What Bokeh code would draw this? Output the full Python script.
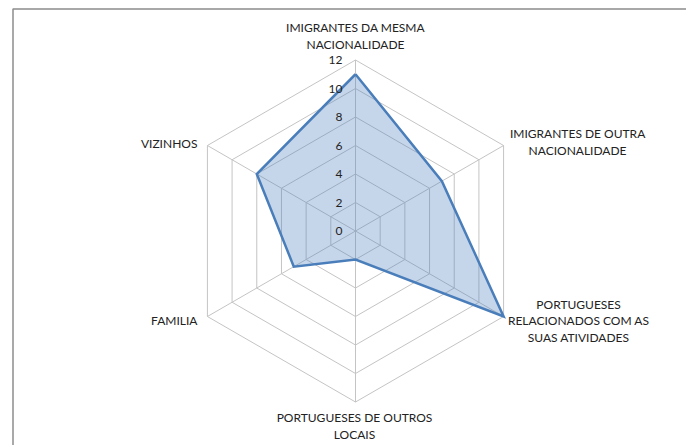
import numpy as np
from bokeh.plotting import figure
from bokeh.models import Range1d, ColumnDataSource
from bokeh.embed import file_html
from bokeh.resources import INLINE
from bokeh.core.properties import value

# ---- data ----
categories = [
    "IMIGRANTES DA MESMA\nNACIONALIDADE",
    "IMIGRANTES DE OUTRA\nNACIONALIDADE",
    "PORTUGUESES\nRELACIONADOS COM AS\nSUAS ATIVIDADES",
    "PORTUGUESES DE OUTROS\nLOCAIS",
    "FAMILIA",
    "VIZINHOS",
]
values = [11, 7, 12, 2, 5, 8]
ticks = [0, 2, 4, 6, 8, 10, 12]
tick_labels = ["0", "2", "4", "6", "8", "10", "12"]
r_max = 12

# ---- layout ----
W, H = 686, 445
cx_px, cy_px = 355, 230.5
k = 14.25  # pixels per unit
FONT = "Lato"
TXT = "#222222"

x0, x1 = -cx_px / k, (W - cx_px) / k
y0, y1 = -(H - cy_px) / k, cy_px / k
p = figure(width=W, height=H, output_backend="svg", toolbar_location=None,
           x_range=Range1d(x0, x1), y_range=Range1d(y0, y1),
           min_border=0, border_fill_color="white", background_fill_color="white")
p.axis.visible = False
p.grid.visible = False
p.outline_line_color = None

# chart border (cropped: only top and left edges visible)
bl = x0 + 12.5 / k
bt = y1 - 8.5 / k
p.multi_line(xs=[[x1, bl, bl]], ys=[[bt, bt, y0]],
             line_color="#8c8c8c", line_width=1.5)

n = len(categories)
theta = np.pi / 2 - np.arange(n) * 2 * np.pi / n
cos_t, sin_t = np.cos(theta), np.sin(theta)

# rings
ring_xs, ring_ys = [], []
for t in ticks[1:]:
    ring_xs.append(list(t * np.append(cos_t, cos_t[0])))
    ring_ys.append(list(t * np.append(sin_t, sin_t[0])))
p.multi_line(ring_xs, ring_ys, line_color="#c4c4c4", line_width=1)

# spokes
p.segment(x0=np.zeros(n), y0=np.zeros(n), x1=r_max * cos_t, y1=r_max * sin_t,
          line_color="#c4c4c4", line_width=1)

# data polygon
vals = np.array(values, dtype=float)
px_ = vals * cos_t
py_ = vals * sin_t
p.patch(list(px_), list(py_), fill_color="#4F81BD", fill_alpha=0.32, line_color=None)
p.line(list(np.append(px_, px_[0])), list(np.append(py_, py_[0])),
       line_color="#4A7EBB", line_width=2.5, line_join="miter")

# tick labels along the vertical axis
tsrc = ColumnDataSource(dict(x=[0] * len(ticks), y=ticks, t=tick_labels))
p.text(x="x", y="y", text="t", source=tsrc, x_offset=-13, y_offset=0,
       text_align="right", text_baseline="middle", text_font=value(FONT),
       text_font_size="12px", text_color=TXT)

# category labels
x_off = [0, 74, 75, -1, -10, -10]
y_off = [-24, -3.5, 4, 24, 3.5, -2.5]
align = ["center", "center", "center", "center", "right", "right"]
csrc = ColumnDataSource(dict(x=r_max * cos_t, y=r_max * sin_t, t=categories,
                             xo=x_off, yo=y_off, al=align))
p.text(x="x", y="y", text="t", source=csrc, x_offset="xo", y_offset="yo",
       text_align="al", text_baseline="middle", text_font=value(FONT),
       text_font_size="12px", text_color=TXT, text_line_height=1.1)

open("out.html", "w").write(file_html(p, INLINE))
